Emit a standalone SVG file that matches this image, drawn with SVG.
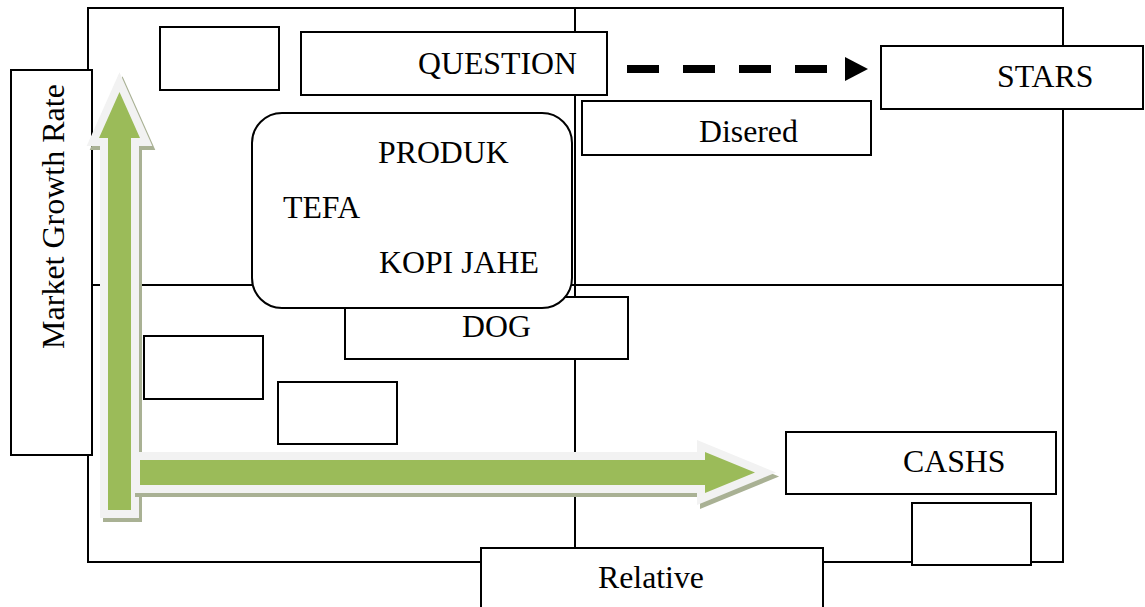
<svg xmlns="http://www.w3.org/2000/svg" width="1145" height="607" viewBox="0 0 1145 607">
<style>
.bx{fill:#fff;stroke:#000;stroke-width:2}
.ln{fill:none;stroke:#000;stroke-width:2}
.t{font-family:"Liberation Serif","Times New Roman",serif;font-size:31.8px;fill:#000}
.sh{fill:#a9b194;stroke:#a9b194;stroke-width:16;stroke-linejoin:miter;stroke-miterlimit:10}
.ol{fill:#9bbb59;stroke:#f2f2f2;stroke-width:16;stroke-linejoin:miter;stroke-miterlimit:10}
.gr{fill:#9bbb59}
</style>
<defs>
<marker id="tri" markerUnits="userSpaceOnUse" markerWidth="24" markerHeight="24" refX="0" refY="12" orient="auto" viewBox="0 0 24 24">
<path d="M0,0 L23,12 L0,24 Z" fill="#000"/>
</marker>
<path id="va" d="M108,510 L108,138 L99,138 L119.5,92 L140,138 L131,138 L131,510 Z"/>
<path id="ha" d="M140,460 L705,460 L705,452 L755,472.5 L705,493 L705,485 L140,485 Z"/>
</defs>
<rect width="1145" height="607" fill="#fff"/>
<g id="matrix">
<rect class="ln" x="88" y="8" width="975" height="554"/>
<line class="ln" x1="575" y1="8" x2="575" y2="548"/>
<line class="ln" x1="88" y1="285" x2="1063" y2="285"/>
</g>
<g id="market-growth-rate">
<rect class="bx" x="11" y="70" width="81" height="385"/>
<text class="t" style="font-size:32px" text-anchor="middle" transform="translate(64,216.5) rotate(-90)">Market Growth Rate</text>
</g>
<g id="box-top-left"><rect class="bx" x="160" y="27" width="119" height="63"/></g>
<g id="question">
<rect class="bx" x="301" y="32" width="306" height="63"/>
<text class="t" x="418" y="74">QUESTION</text>
</g>
<g id="stars">
<rect class="bx" x="881" y="46" width="262" height="63"/>
<text class="t" x="997" y="87">STARS</text>
</g>
<g id="disered">
<rect class="bx" x="582" y="101" width="289" height="54"/>
<text class="t" x="699" y="141.5">Disered</text>
</g>
<g id="dog">
<rect class="bx" x="345" y="297" width="283" height="62"/>
<text class="t" x="462" y="337">DOG</text>
</g>
<g id="produk">
<rect class="bx" x="252" y="113" width="320" height="195" rx="30" ry="30"/>
<text class="t" x="378" y="163">PRODUK</text>
<text class="t" x="283" y="218">TEFA</text>
<text class="t" x="379" y="273">KOPI JAHE</text>
</g>
<g id="box-left-1"><rect class="bx" x="144" y="336" width="119" height="63"/></g>
<g id="box-left-2"><rect class="bx" x="278" y="382" width="119" height="62"/></g>
<g id="cashs">
<rect class="bx" x="786" y="432" width="270" height="62"/>
<text class="t" x="903" y="471.5">CASHS</text>
</g>
<g id="box-bottom-right"><rect class="bx" x="912" y="503" width="119" height="62"/></g>
<g id="relative">
<rect class="bx" x="481" y="548" width="342" height="70"/>
<text class="t" x="598" y="588">Relative</text>
</g>
<g id="connectors">
<line x1="627" y1="69" x2="845" y2="69" stroke="#000" stroke-width="8" stroke-dasharray="32 24" marker-end="url(#tri)"/>
<use href="#va" class="sh" transform="translate(3,4)"/>
<use href="#va" class="ol"/>
<use href="#va" class="gr"/>
<use href="#ha" class="sh" transform="translate(3,4)"/>
<use href="#ha" class="ol"/>
<use href="#ha" class="gr"/>
</g>
</svg>
